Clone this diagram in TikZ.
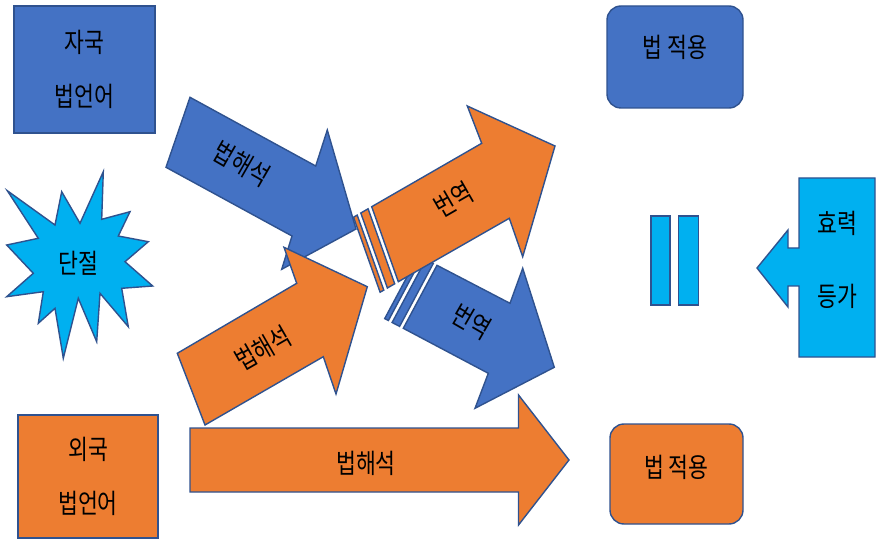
\documentclass[tikz,border=0pt]{standalone}
\usepackage{fontspec}
\newfontfamily\krfont[FakeStretch=0.8]{Noto Sans CJK KR}
\usepackage{xcolor}
\definecolor{OfficeBlue}{HTML}{4472C4}
\definecolor{OfficeOrange}{HTML}{ED7D31}
\definecolor{OfficeCyan}{HTML}{00B0F0}
\definecolor{OfficeEdge}{HTML}{2F528F}
\usepackage{tikz}

\begin{document}
\begin{tikzpicture}[x=1pt, y=-1pt,
    blueblk/.style={draw=OfficeEdge, fill=OfficeBlue, line width=1.4pt},
    orangeblk/.style={draw=OfficeEdge, fill=OfficeOrange, line width=1.4pt},
    cyanblk/.style={draw=OfficeEdge, fill=OfficeCyan, line width=1.4pt},
    txt/.style={font=\krfont\fontsize{27}{31}\selectfont, inner sep=0pt},
    twoline/.style={align=center, inner sep=0pt, font=\krfont\fontsize{27}{54}\selectfont}]
  \useasboundingbox (0,0) rectangle (876,540);

  % source boxes
  \node[blueblk, twoline, minimum width=141, minimum height=127] (homeLaw) at (84.5,69.5) {자국\\법언어};
  \node[orangeblk, twoline, minimum width=140, minimum height=123] (foreignLaw) at (88,476.5) {외국\\법언어};

  % break
  \draw[cyanblk] (103.3,171.7) -- (101.7,219.3) -- (130,211.7) -- (118.3,236) -- (148.3,241.7)
    -- (125,261.7) -- (152.7,286) -- (121.7,288.3) -- (128.3,326.7) -- (100,293.3)
    -- (96.7,341.7) -- (78.3,298.3) -- (63.3,358.3) -- (55,308.3) -- (38.3,323.3)
    -- (43.3,291.7) -- (6.7,296.7) -- (33.3,273.3) -- (6.7,245) -- (38.3,238.3)
    -- (7.3,190.7) -- (55,225) -- (61.7,191.7) -- (80,223.3) -- cycle;
  \node[txt] (rupture) at (78.3,263.3) {단절};

  % interpretation, foreign side
  \draw[orangeblk] (190,428) -- (518.5,428) -- (518.5,395) -- (569,460) -- (518.5,525) -- (518.5,492) -- (190,492) -- cycle;
  \node[txt] (interpBottom) at (366,463) {법해석};

  % interpretation, home side
  \draw[blueblk] (190,97.3) -- (315.7,166) -- (327.3,130) -- (356,229) -- (281.7,269.3) -- (292,236) -- (166,167.3) -- cycle;
  \node[txt, rotate=-30] (interpHome) at (241.7,163.3) {법해석};

  \draw[orangeblk] (205,425) -- (177.3,353.3) -- (296.7,283.3) -- (284,247.3) -- (367.3,286.7) -- (336,394) -- (323.3,356.7) -- cycle;
  \node[txt, rotate=30] (interpForeign) at (263.3,348.3) {법해석};

  % translation, striped arrows
  \draw[blueblk] (437,265.3) -- (510,303.3) -- (522.7,268.3) -- (554.3,367.3) -- (475,408.3) -- (488.3,373.3) -- (403.3,328.3) -- cycle;
  \draw[blueblk] (425.8,259.5) -- (433.3,263.4) -- (399.6,326.4) -- (392.1,322.5) -- cycle;
  \draw[blueblk] (418.4,255.6) -- (422.1,257.5) -- (388.4,320.5) -- (384.7,318.6) -- cycle;
  \node[txt, rotate=-30] (transDown) at (471.7,321.7) {번역};

  \draw[orangeblk] (371.7,206.7) -- (481.7,143.3) -- (467.3,106) -- (555,146) -- (522.7,256.7) -- (509.3,218.3) -- (398.3,281.7) -- cycle;
  \draw[orangeblk] (360.8,213) -- (368.1,208.8) -- (394.7,283.8) -- (387.4,288) -- cycle;
  \draw[orangeblk] (353.5,217.2) -- (357.2,215.1) -- (383.8,290.1) -- (380.1,292.2) -- cycle;
  \node[txt, rotate=30] (transUp) at (453.3,200) {번역};

  % application
  \node[blueblk, txt, rounded corners=14pt, minimum width=136, minimum height=102, text depth=22pt] (applyHome) at (675,57) {법 적용};
  \node[orangeblk, txt, rounded corners=14pt, minimum width=133, minimum height=100, text depth=15pt] (applyForeign) at (676.5,474) {법 적용};

  % equal sign
  \node[cyanblk, minimum width=19, minimum height=89, inner sep=0pt] (eqLeft) at (660.5,260.5) {};
  \node[cyanblk, minimum width=20, minimum height=89, inner sep=0pt] (eqRight) at (688.3,260.5) {};

  % equivalence callout
  \draw[cyanblk] (799,178) -- (875,178) -- (875,357) -- (799,357) -- (799,286) -- (788,286) -- (788,307)
    -- (757,268) -- (788,230) -- (788,248) -- (799,248) -- cycle;
  \node[twoline, font=\krfont\fontsize{27}{73}\selectfont] (equalEffect) at (837,259.5) {효력\\등가};
\end{tikzpicture}
\end{document}
